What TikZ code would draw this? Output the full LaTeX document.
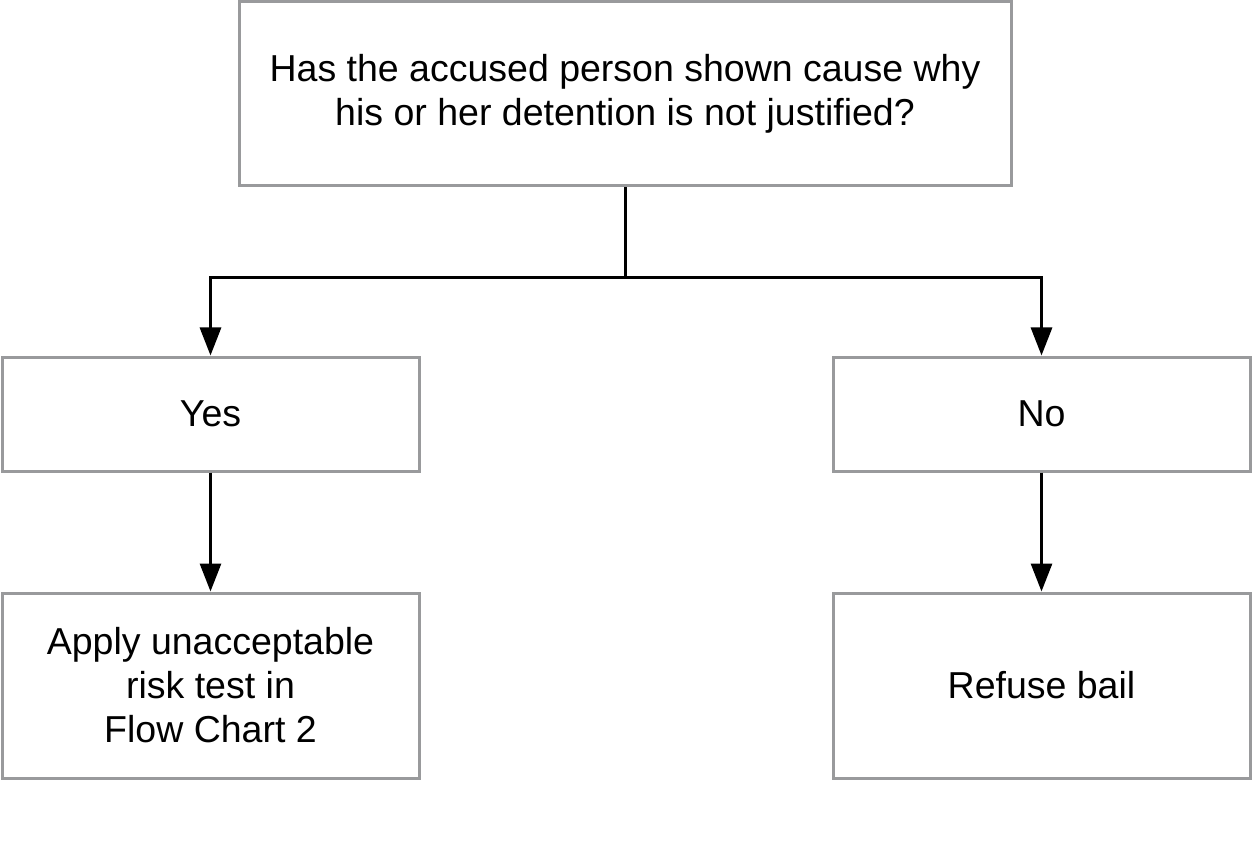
\documentclass[tikz,border=0pt]{standalone}
\usepackage{fontspec}
\setmainfont{Liberation Sans}
\usetikzlibrary{arrows.meta}
\definecolor{boxgray}{HTML}{999A9C}
\begin{document}
\begin{tikzpicture}[x=1pt,y=1pt,
  box/.style={draw=boxgray, line width=3pt, rectangle, inner sep=0pt, align=center,
    font=\fontsize{37.5}{44}\selectfont, fill=white},
  conn/.style={draw=black, line width=3pt},
  arr/.style={conn, -{Triangle[width=21pt,length=28pt]}}]
\useasboundingbox (0,0) rectangle (1252,-866);
\node[box, minimum width=772pt, minimum height=184pt] (top) at (625,-94)
  {Has the accused person shown cause why\\his or her detention is not justified?};
\node[box, minimum width=417pt, minimum height=114pt] (yes) at (210.5,-414) {Yes};
\node[box, minimum width=417pt, minimum height=114pt] (no) at (1041.5,-414) {No};
\node[box, minimum width=417pt, minimum height=185pt] (apply) at (210.5,-685.5)
  {Apply unacceptable\\risk test in\\Flow Chart 2};
\node[box, minimum width=417pt, minimum height=185pt] (refuse) at (1041.5,-685.5) {Refuse bail};
\coordinate (j) at (625,-278);
\draw[conn] (top.south) -- (j);
\draw[arr] (j) -| (yes.north);
\draw[arr] (j) -| (no.north);
\draw[arr] (yes) -- (apply);
\draw[arr] (no) -- (refuse);
\end{tikzpicture}
\end{document}
